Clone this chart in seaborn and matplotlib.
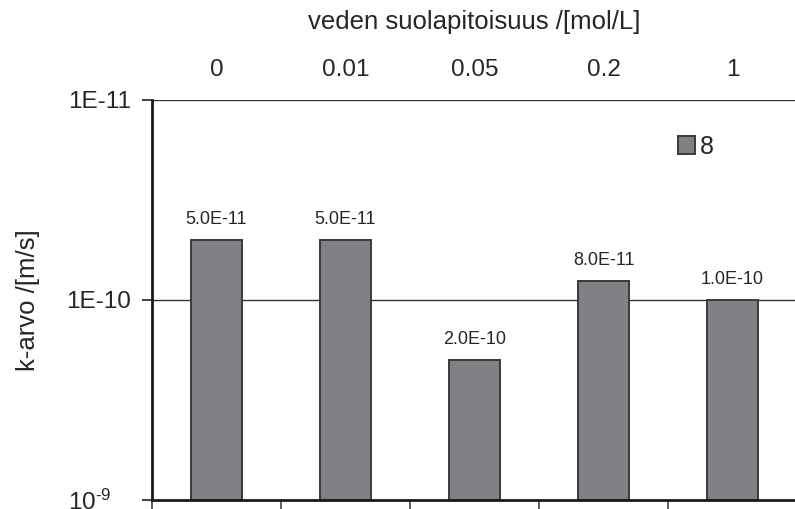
import matplotlib
matplotlib.use("Agg")
import matplotlib.pyplot as plt
import matplotlib.ticker as mticker
import matplotlib.transforms as mtransforms
import seaborn as sns
import pandas as pd

categories = ["0", "0.01", "0.05", "0.2", "1"]
k_values = [5e-11, 5e-11, 2e-10, 8e-11, 1e-10]
value_labels = ["5.0E-11", "5.0E-11", "2.0E-10", "8.0E-11", "1.0E-10"]
series_name = "8"
y_ticks = [1e-11, 1e-10, 1e-9]
y_ticklabels = ["1E-11", "1E-10", "$\\mathregular{10^{\\text{-}9}}$"]

base = 1e-9

sns.set_theme(style="white")
plt.rcParams["font.family"] = ["Liberation Sans", "DejaVu Sans"]
plt.rcParams["mathtext.fontset"] = "custom"
plt.rcParams["mathtext.rm"] = "Liberation Sans"

fig = plt.figure(figsize=(7.95, 5.09), dpi=100)
ax = fig.add_axes([152 / 795, 9 / 509, 645 / 795, 400 / 509])

df = pd.DataFrame({"cat": categories, "h": [v - base for v in k_values]})
sns.barplot(data=df, x="cat", y="h", bottom=base, width=0.4, color="#808184",
            saturation=1, edgecolor="#3a3a3a", linewidth=1.4, label=series_name, ax=ax)

ax.set_yscale("log")
ax.set_ylim(1e-9, 1e-11)
ax.set_xlim(-0.5, len(categories) - 0.5)

ax.yaxis.set_major_locator(mticker.FixedLocator(y_ticks))
ax.yaxis.set_minor_locator(mticker.NullLocator())
ax.set_yticklabels(y_ticklabels)
ax.tick_params(axis="y", which="major", left=True, length=7, width=1.2, color="#222222",
               labelsize=17.5, pad=8)
# shift the bottom label slightly left as in the reference
lbl = ax.get_yticklabels()[-1]
lbl.set_transform(lbl.get_transform() + mtransforms.ScaledTranslation(-20 / 100, 0, fig.dpi_scale_trans))

for yv in y_ticks[:2]:
    ax.axhline(yv, color="#333333", lw=1.0, zorder=0.5)

ax.xaxis.set_major_locator(mticker.FixedLocator(range(len(categories))))
ax.set_xticklabels(categories)
ax.xaxis.set_minor_locator(mticker.FixedLocator([i - 0.5 for i in range(len(categories) + 1)]))
ax.tick_params(axis="x", which="major", bottom=False, top=False, length=0, labelbottom=False,
               labeltop=True, labelsize=17.5, pad=13.5)
ax.tick_params(axis="x", which="minor", bottom=True, top=False, length=8, width=1.2,
               color="#444444")
ax.xaxis.set_label_position("top")
ax.set_xlabel("veden suolapitoisuus /[mol/L]", fontsize=18.5, labelpad=21.5)
ax.set_ylabel("k-arvo /[m/s]", fontsize=18.5, labelpad=19)

for s in ["top", "right"]:
    ax.spines[s].set_visible(False)
for s in ["left", "bottom"]:
    ax.spines[s].set_color("#1a1a1a")
    ax.spines[s].set_linewidth(2)

for i, (v, lab) in enumerate(zip(k_values, value_labels)):
    ax.annotate(lab, (i, v), xytext=(0, 8.5), textcoords="offset points",
                ha="center", va="bottom", fontsize=13)

leg = ax.legend(loc="upper left", bbox_to_anchor=(655 / 795, 1 - 112 / 509),
                bbox_transform=fig.transFigure, frameon=False, fontsize=18,
                handlelength=0.7, handleheight=0.7, handletextpad=0.2)

fig.savefig("out.png", dpi=100)
